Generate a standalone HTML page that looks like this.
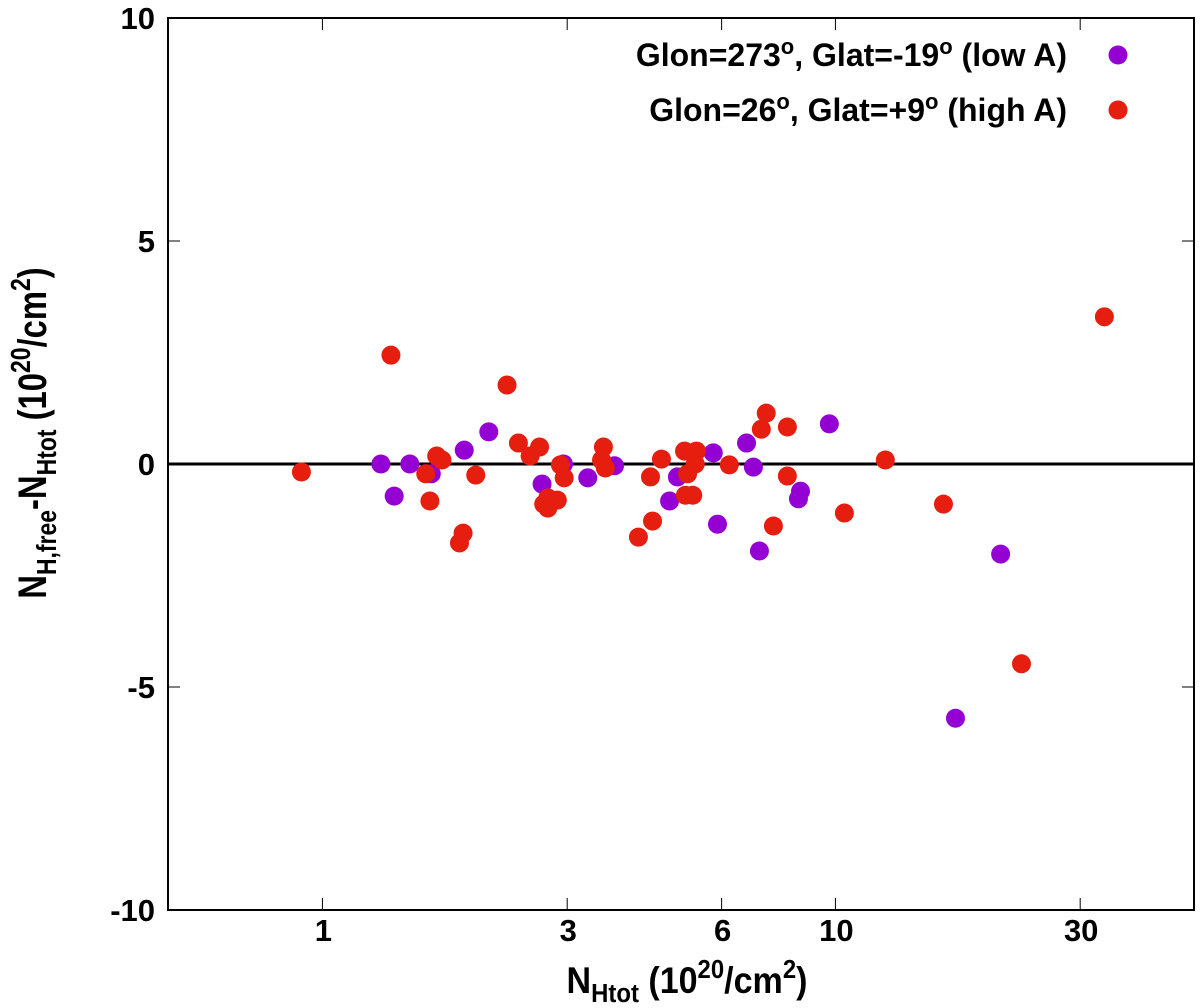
<!DOCTYPE html>
<html><head><meta charset="utf-8"><style>
html,body{margin:0;padding:0;background:#fff;}
svg{display:block;font-family:"Liberation Sans",Arial,sans-serif;font-weight:bold;}
</style></head><body>
<svg id="chart" width="1200" height="1008" xmlns="http://www.w3.org/2000/svg">
<rect x="168" y="18" width="1026" height="892" fill="none" stroke="#000" stroke-width="2"/>
<g id="ticks"></g>
<g id="marks"></g>
<text x="1067" y="66" font-size="32" text-anchor="end">Glon=273<tspan dy="-12" font-size="22">o</tspan><tspan dy="12">, Glat=-19</tspan><tspan dy="-12" font-size="22">o</tspan><tspan dy="12"> (low A)</tspan></text>
<circle cx="1118" cy="55" r="9.5" fill="#9400d3"/>
<text x="1067" y="121" font-size="32" text-anchor="end">Glon=26<tspan dy="-12" font-size="22">o</tspan><tspan dy="12">, Glat=+9</tspan><tspan dy="-12" font-size="22">o</tspan><tspan dy="12"> (high A)</tspan></text>
<circle cx="1118" cy="110" r="9.5" fill="#e51e10"/>
<text transform="translate(687,993) scale(0.92,1)" font-size="37" text-anchor="middle">N<tspan dy="9" font-size="26">Htot</tspan><tspan dy="-9"> (10</tspan><tspan dy="-15" font-size="26">20</tspan><tspan dy="15">/cm</tspan><tspan dy="-15" font-size="26">2</tspan><tspan dy="15">)</tspan></text>
<text transform="translate(46,433) rotate(-90) scale(0.82,1)" font-size="40" text-anchor="middle">N<tspan dy="10" font-size="28">H,free</tspan><tspan dy="-10">-N</tspan><tspan dy="10" font-size="28">Htot</tspan><tspan dy="-10"> (10</tspan><tspan dy="-16" font-size="28">20</tspan><tspan dy="16">/cm</tspan><tspan dy="-16" font-size="28">2</tspan><tspan dy="16">)</tspan></text>
</svg>
<script>
const xTicks = [1, 3, 6, 10, 30];
const yTicks = [-10, -5, 0, 5, 10];
const lowX = [1.30,1.38,1.48,1.63,1.89,2.11,2.68,2.95,3.29,3.71,4.75,4.92,5.78,5.89,6.71,6.92,7.11,8.55,8.47,9.73,20.99,17.14];
const lowY = [0,-0.72,0,-0.22,0.31,0.72,-0.45,0,-0.31,-0.04,-0.83,-0.29,0.25,-1.35,0.47,-0.07,-1.95,-0.61,-0.78,0.90,-2.02,-5.70];
const highX = [0.91,1.36,1.59,1.62,1.67,1.71,1.88,1.85,1.99,2.29,2.41,2.65,2.54,2.91,2.96,2.75,2.87,2.70,2.75,3.53,3.50,3.56,4.13,4.58,4.36,4.40,5.08,5.36,5.33,5.15,5.10,5.27,6.21,7.33,7.17,8.06,8.06,7.57,10.41,12.51,16.24,33.44,23.05];
const highY = [-0.18,2.44,-0.22,-0.83,0.18,0.09,-1.55,-1.77,-0.25,1.77,0.47,0.38,0.18,-0.02,-0.31,-0.76,-0.81,-0.90,-0.99,0.38,0.09,-0.09,-1.64,0.11,-0.29,-1.28,0.29,0.29,0,-0.22,-0.70,-0.70,-0.02,1.14,0.78,0.83,-0.27,-1.39,-1.10,0.09,-0.90,3.30,-4.48];
const L=168,R=1194,T=18,B=910;
const xmin=Math.log10(0.5), xmax=Math.log10(50);
function sx(v){return L+(Math.log10(v)-xmin)/(xmax-xmin)*(R-L);}
function sy(v){return B-(v+10)/20*(B-T);}
const NS="http://www.w3.org/2000/svg";
const tg=document.getElementById('ticks'), mg=document.getElementById('marks');
function mk(tag,attrs,parent){const e=document.createElementNS(NS,tag);for(const k in attrs)e.setAttribute(k,attrs[k]);parent.appendChild(e);return e;}
xTicks.forEach(v=>{
  const x=sx(v);
  const t=mk('line',{x1:x,x2:x,y1:B,y2:B-12,stroke:'#000','stroke-width':1},tg);
  
  
  const t2=mk('line',{x1:x,x2:x,y1:T,y2:T+12,stroke:'#000','stroke-width':1},tg);
  
  
  const lb=mk('text',{x:x+1,y:B+31,'font-size':31,'text-anchor':'middle'},tg);
  lb.textContent=v;
  
  
});
yTicks.forEach(v=>{
  const y=sy(v);
  const t=mk('line',{x1:L,x2:L+12,y1:y,y2:y,stroke:'#000','stroke-width':1},tg);
  
  
  const t2=mk('line',{x1:R,x2:R-12,y1:y,y2:y,stroke:'#000','stroke-width':1},tg);
  
  
  const lb=mk('text',{x:L-13,y:y+11,'font-size':31,'text-anchor':'end'},tg);
  lb.textContent=v;
  
  
});
const zl=mk('line',{x1:L,x2:R,y1:sy(0),y2:sy(0),stroke:'#000','stroke-width':3},mg);


lowX.forEach((v,i)=>{
  const c=mk('circle',{cx:sx(v),cy:sy(lowY[i]),r:9.5,fill:'#9400d3'},mg);
  
  
});
highX.forEach((v,i)=>{
  const c=mk('circle',{cx:sx(v),cy:sy(highY[i]),r:9.5,fill:'#e51e10'},mg);
  
  
});
</script>
</body></html>
